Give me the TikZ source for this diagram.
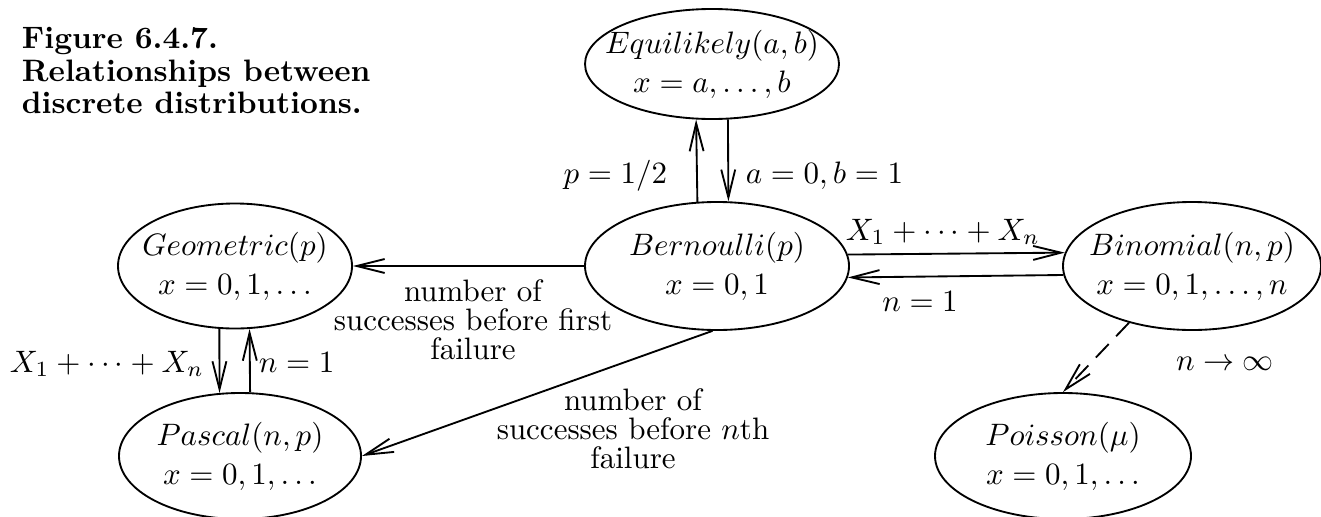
\documentclass[tikz,border=0pt]{standalone}
\usetikzlibrary{shapes.geometric,arrows.meta}
\def\upx{0.3226pt}
\begin{document}
\begin{tikzpicture}[x=0.3226pt,y=-0.3226pt,line width=0.6pt,
  >={Straight Barb[length=9pt,width=4.5pt]},
  dist/.style={draw,ellipse,inner sep=0pt},
  dtext/.style={inner sep=0pt,align=center,font=\fontsize{10}{12.6}\selectfont},
  lbl/.style={inner sep=0pt,align=center,font=\fontsize{10}{9.4}\selectfont},
  dashline/.style={dash pattern=on 6pt off 3.5pt}]
\useasboundingbox (0,0) rectangle (1321,516);

% caption
\node[anchor=north west,inner sep=0pt,align=left,font=\fontsize{10}{10.6}\selectfont\bfseries] (cap) at (21,26)
  {Figure 6.4.7.\\Relationships between\\discrete distributions.};

% distributions
\node[dist,minimum width=254*\upx,minimum height=110*\upx,
  label={[dtext]center:{$Equilikely(a,b)$\\$x=a,\ldots,b$}}] (equi) at (712,64) {};
\node[dist,minimum width=264*\upx,minimum height=128*\upx,
  label={[dtext]center:{$Bernoulli(p)$\\$x=0,1$}}] (bern) at (717,266) {};
\node[dist,minimum width=234*\upx,minimum height=125*\upx,
  label={[dtext]center:{$Geometric(p)$\\$x=0,1,\ldots$}}] (geo) at (235,266) {};
\node[dist,minimum width=258*\upx,minimum height=128*\upx,
  label={[dtext]center:{$Binomial(n,p)$\\$x=0,1,\ldots,n$}}] (binom) at (1192,266) {};
\node[dist,minimum width=242*\upx,minimum height=126*\upx,
  label={[dtext]center:{$Pascal(n,p)$\\$x=0,1,\ldots$}}] (pascal) at (240,456) {};
\node[dist,minimum width=256*\upx,minimum height=126*\upx,
  label={[dtext]center:{$Poisson(\mu)$\\$x=0,1,\ldots$}}] (poisson) at (1063,456) {};

% Bernoulli <-> Equilikely
\draw[->] (bern.107.5) -- (equi.254.6);
\draw[->] (equi.286.3) -- (bern.80.2);
\node[lbl,anchor=base east] (l1) at (668,183) {$p=1/2$};
\node[lbl,anchor=base west] (l2) at (745,183) {$a=0,b=1$};

% Bernoulli <-> Binomial
\draw[->] (bern.5.75) -- (binom.174.1);
\draw[->] (binom.184.95) -- (bern.355.2);
\node[lbl,anchor=base] (l3) at (943,240) {$X_1+\cdots+X_n$};
\node[lbl,anchor=base] (l4) at (920,311) {$n=1$};

% Bernoulli -> Geometric
\draw[->] (bern.west) -- (geo.east);
\node[lbl] (l5) at (473,320) {number of\\successes before first\\failure};

% Geometric <-> Pascal
\draw[->] (geo.256.4) -- (pascal.108.7);
\draw[->] (pascal.81.8) -- (geo.283.6);
\node[lbl,anchor=base east] (l6) at (205,372) {$X_1+\cdots+X_n$};
\node[lbl,anchor=base west] (l7) at (258,372) {$n=1$};

% Bernoulli -> Pascal
\draw[->] (bern.266) -- (pascal.east);
\node[lbl] (l8) at (633,429) {number of\\successes before $n$th\\failure};

% Binomial -> Poisson
\draw[->,dashline] (binom.222) -- (poisson.north);
\node[lbl,anchor=base] (l9) at (1225,370) {$n\to\infty$};
\end{tikzpicture}
\end{document}
